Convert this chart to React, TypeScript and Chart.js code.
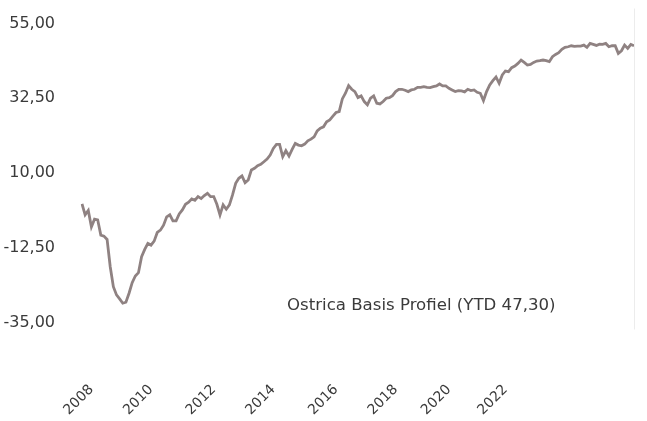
import React, { useEffect, useRef } from 'react';
import { Chart, registerables } from 'chart.js';

Chart.register(...registerables);

// Series values (one per period)
const values: number[] = [
  0.7, -2.6, -1.3, -6.2, -3.9, -4.1, -8.7, -9.0, -10.0, -18.2,
  -24.2, -26.7, -27.9, -29.2, -28.9, -26.2, -23.0, -21.0, -20.0,
  -15.2, -13.0, -11.2, -11.7, -10.5, -7.9, -7.2, -5.7, -3.2, -2.6,
  -4.4, -4.4, -2.3, -1.1, 0.6, 1.2, 2.2, 1.8, 2.9,
  2.3, 3.2, 3.9, 2.9, 2.9, 0.6, -2.6, 0.4, -0.9, 0.4,
  3.4, 6.9, 8.4, 9.1, 7.1, 7.9, 10.9, 11.4, 12.2, 12.6,
  13.4, 14.2, 15.4, 17.4, 18.6, 18.6, 14.9, 16.7, 15.1, 17.1,
  18.9, 18.4, 18.2, 18.7, 19.7, 20.2, 20.9, 22.7, 23.5, 23.9,
  25.4, 26.0, 27.1, 28.2, 28.5, 32.3, 34.0, 36.3, 35.2, 34.5, 32.7,
  33.2, 31.5, 30.5, 32.5, 33.2, 31.0, 30.8, 31.5, 32.5, 32.7,
  33.3, 34.5, 35.2, 35.2, 34.9, 34.5, 35.0, 35.2, 35.8, 35.8,
  36.0, 35.8, 35.7, 36.0, 36.2, 36.8, 36.2, 36.2, 35.5, 35.0,
  34.5, 34.8, 34.7, 34.4, 35.2, 34.8, 35.0, 34.3, 34.0, 31.8,
  34.5, 36.5, 37.8, 38.9, 37.0, 39.5, 40.7, 40.5, 41.7, 42.2,
  43.0, 44.0, 43.3, 42.5, 42.7, 43.3, 43.7, 43.8, 44.0, 43.8,
  43.5, 45.0, 45.7, 46.2, 47.2, 47.8, 48.0, 48.3, 48.1, 48.2,
  48.2, 48.5, 47.8, 49.0, 48.7, 48.4, 48.8, 48.7, 49.0, 48.0,
  48.3, 48.3, 46.0, 46.8, 48.5, 47.5, 48.7, 48.3,
];

// Category positions of the year tick labels
const yearLabels: string[] = ['2008', '2010', '2012', '2014', '2016', '2018', '2020', '2022'];
const yearIndex: number[] = [3, 22, 42, 61, 81, 100, 117, 135];

// Y axis tick values
const yTicks: number[] = [-35, -12.5, 10, 32.5, 55];

const seriesName = 'Ostrica Basis Profiel (YTD 47,30)';

const categories: string[] = values.map((_, i) => {
  const k = yearIndex.indexOf(i);
  return k >= 0 ? yearLabels[k] : '';
});

const FONT = "'DejaVu Sans', 'Liberation Sans', sans-serif";
const TEXT = '#3a3a3a';

const overlayPlugin = {
  id: 'overlay',
  afterDraw(chart: any) {
    const { ctx, chartArea } = chart;
    ctx.save();
    // faint right frame line
    ctx.strokeStyle = '#ececec';
    ctx.lineWidth = 1;
    ctx.beginPath();
    ctx.moveTo(chartArea.right + 0.5, chartArea.top - 15);
    ctx.lineTo(chartArea.right + 0.5, chartArea.bottom + 7);
    ctx.stroke();
    // series label inside the plot
    ctx.fillStyle = TEXT;
    ctx.font = `16.6px ${FONT}`;
    ctx.textAlign = 'left';
    ctx.textBaseline = 'middle';
    ctx.fillText(seriesName, chartArea.left + 205, chartArea.bottom - 17);
    ctx.restore();
  },
};

export default function App() {
  const canvasRef = useRef<HTMLCanvasElement | null>(null);

  useEffect(() => {
    if (!canvasRef.current) return;
    const chart = new Chart(canvasRef.current, {
      type: 'line',
      data: {
        labels: categories,
        datasets: [
          {
            label: seriesName,
            data: values,
            borderColor: '#8f8282',
            backgroundColor: '#8f8282',
            borderWidth: 2.8,
            pointRadius: 0,
            tension: 0,
            fill: false,
          },
        ],
      },
      options: {
        responsive: false,
        animation: false,
        devicePixelRatio: 1,
        layout: { padding: { top: 23.5, right: 13, bottom: 0, left: 0 } },
        plugins: {
          legend: { display: false },
          tooltip: { enabled: false },
          title: { display: false },
        },
        scales: {
          x: {
            type: 'category',
            grid: { display: false, drawTicks: false },
            border: { display: false },
            ticks: {
              autoSkip: false,
              minRotation: 45,
              maxRotation: 45,
              padding: 59,
              color: TEXT,
              font: { family: FONT, size: 14 },
            },
            afterFit(scale: any) {
              scale.height = 98.5;
              scale.paddingLeft = 0;
              scale.paddingRight = 0;
            },
          },
          y: {
            min: yTicks[0],
            max: yTicks[yTicks.length - 1],
            grid: { display: false, drawTicks: false },
            border: { display: false },
            afterBuildTicks(scale: any) {
              scale.ticks = yTicks.map((v) => ({ value: v }));
            },
            ticks: {
              padding: 27,
              color: TEXT,
              font: { family: FONT, size: 16 },
              callback: (v: any) => Number(v).toFixed(2).replace('.', ','),
            },
            afterFit(scale: any) {
              scale.width = 82;
              scale.paddingTop = 0;
              scale.paddingBottom = 0;
            },
          },
        },
      },
      plugins: [overlayPlugin],
    });
    return () => chart.destroy();
  }, []);

  return (
    <div style={{ position: 'absolute', left: 0, top: 0, width: 647, height: 421, background: '#fff' }}>
      <canvas ref={canvasRef} width={647} height={421} />
    </div>
  );
}
